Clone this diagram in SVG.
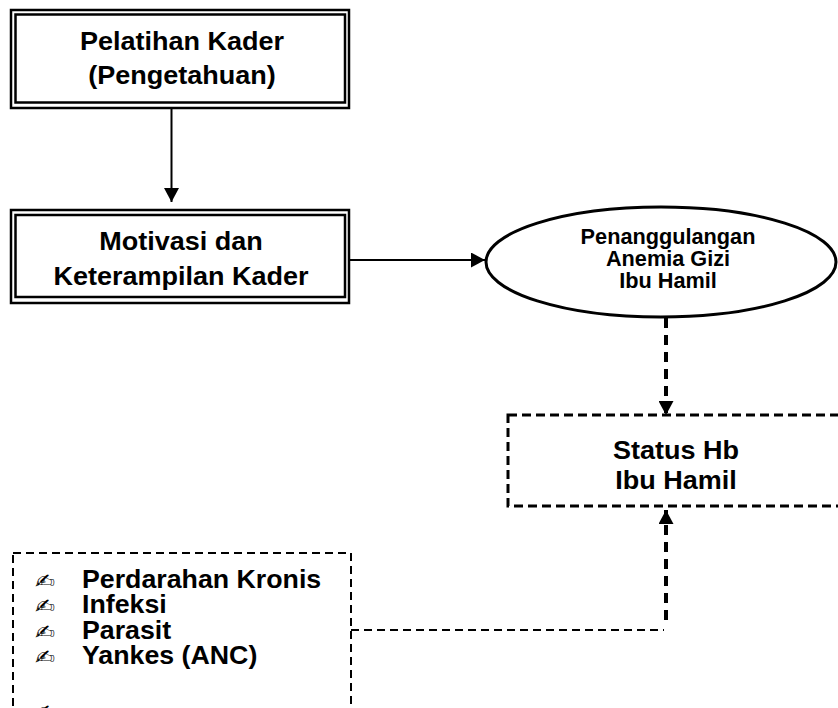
<svg xmlns="http://www.w3.org/2000/svg" width="838" height="708" viewBox="0 0 838 708">
<style>
.t{font-family:"Liberation Sans",Arial,sans-serif;font-weight:bold;fill:#000}
.c{text-anchor:middle}
.b{font-family:"DejaVu Sans",sans-serif;font-size:20px;fill:#000}
.solid{fill:none;stroke:#000;stroke-width:2}
.dash{fill:none;stroke:#000}
</style>
<defs>
<marker id="ah" viewBox="0 0 14 15" refX="14" refY="7.5" markerWidth="14" markerHeight="15" markerUnits="userSpaceOnUse" orient="auto">
<path d="M0,0 L14,7.5 L0,15 Z" fill="#000"/>
</marker>
</defs>
<rect width="838" height="708" fill="#fff"/>
<g id="pelatihan">
<rect x="11" y="10" width="338" height="98" fill="none" stroke="#000" stroke-width="2.5"/>
<rect x="15.5" y="14.5" width="329.5" height="88" fill="none" stroke="#000" stroke-width="2.5"/>
<text class="t c" font-size="26.5" transform="matrix(1.02 0 0 1 182 0)" x="0" y="50">Pelatihan Kader</text>
<text class="t c" font-size="26.5" transform="matrix(1.02 0 0 1 182 0)" x="0" y="84">(Pengetahuan)</text>
</g>
<g id="motivasi">
<rect x="11" y="210" width="338" height="93" fill="none" stroke="#000" stroke-width="2.5"/>
<rect x="15.5" y="215" width="329.5" height="82" fill="none" stroke="#000" stroke-width="2.5"/>
<text class="t c" font-size="26.5" transform="matrix(1.02 0 0 1 181 0)" x="0" y="250">Motivasi dan</text>
<text class="t c" font-size="26.5" transform="matrix(1.02 0 0 1 181 0)" x="0" y="285">Keterampilan Kader</text>
</g>
<g id="penanggulangan">
<ellipse cx="661" cy="262" rx="175" ry="55" fill="none" stroke="#000" stroke-width="3"/>
<text class="t c" font-size="21.5" transform="matrix(1.01 0 0 1 668 0)" x="0" y="244">Penanggulangan</text>
<text class="t c" font-size="21.5" transform="matrix(1.01 0 0 1 668 0)" x="0" y="266">Anemia Gizi</text>
<text class="t c" font-size="21.5" transform="matrix(1.01 0 0 1 668 0)" x="0" y="288">Ibu Hamil</text>
</g>
<g id="status">
<rect x="508" y="415" width="340" height="91" class="dash" stroke-width="3" stroke-dasharray="9 5"/>
<text class="t c" font-size="26.5" transform="matrix(1.02 0 0 1 676 0)" x="0" y="459">Status Hb</text>
<text class="t c" font-size="26.5" transform="matrix(1.02 0 0 1 676 0)" x="0" y="489">Ibu Hamil</text>
</g>
<g id="faktor">
<rect x="13" y="553" width="338" height="200" class="dash" stroke-width="2" stroke-dasharray="8 5"/>
<text class="b" transform="matrix(1.2 0 0 1 35 0)" x="0" y="588">✍</text>
<text class="b" transform="matrix(1.2 0 0 1 35 0)" x="0" y="613">✍</text>
<text class="b" transform="matrix(1.2 0 0 1 35 0)" x="0" y="639">✍</text>
<text class="b" transform="matrix(1.2 0 0 1 35 0)" x="0" y="664">✍</text>
<text class="b" transform="matrix(1.2 0 0 1 35 0)" x="0" y="719">✍</text>
<text class="t" font-size="25" transform="matrix(1.07 0 0 1 82 0)" x="0" y="588">Perdarahan Kronis</text>
<text class="t" font-size="25" transform="matrix(1.07 0 0 1 82 0)" x="0" y="613">Infeksi</text>
<text class="t" font-size="25" transform="matrix(1.07 0 0 1 82 0)" x="0" y="639">Parasit</text>
<text class="t" font-size="25" transform="matrix(1.07 0 0 1 82 0)" x="0" y="664">Yankes (ANC)</text>
</g>
<g id="connectors">
<line x1="171.5" y1="108" x2="171.5" y2="202" class="solid" marker-end="url(#ah)"/>
<line x1="350" y1="260" x2="485" y2="260" class="solid" marker-end="url(#ah)"/>
<line x1="666" y1="318" x2="666" y2="415" class="dash" stroke-width="4" stroke-dasharray="10 7" marker-end="url(#ah)"/>
<line x1="351" y1="630" x2="664" y2="630" class="dash" stroke-width="2" stroke-dasharray="8 5"/>
<line x1="666" y1="620" x2="666" y2="510" class="dash" stroke-width="4" stroke-dasharray="10 7" marker-end="url(#ah)"/>
</g>
</svg>
